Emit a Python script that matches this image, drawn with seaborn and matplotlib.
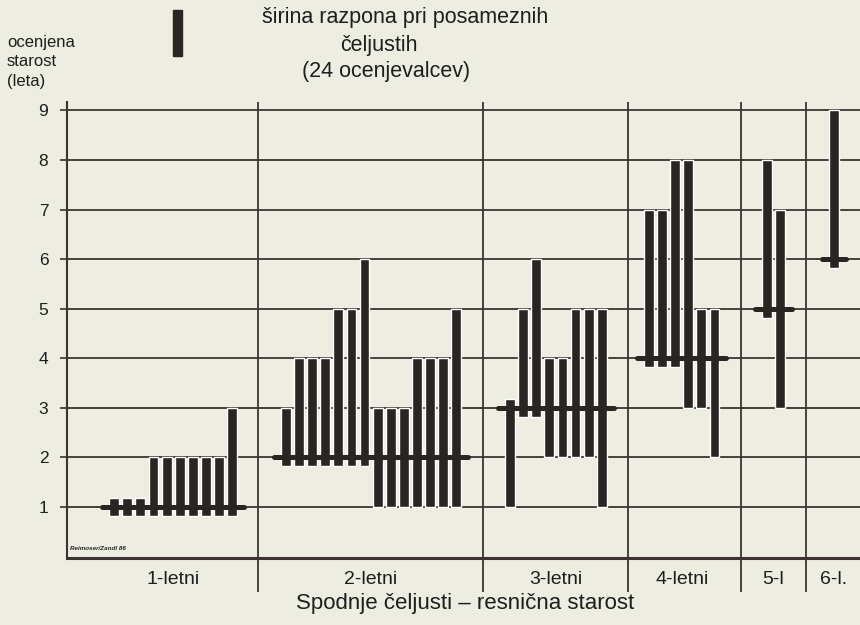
import numpy as np
import pandas as pd
import seaborn as sns
import matplotlib.pyplot as plt
from matplotlib.patches import Rectangle

# real age of the jaws (groups) and the range of estimates per jaw (24 estimators)
groups = ["1-letni", "2-letni", "3-letni", "4-letni", "5-l", "6-l."]
true_age = [1, 2, 3, 4, 5, 6]
est_min = [
    [1, 1, 1, 1, 1, 1, 1, 1, 1, 1],
    [2, 2, 2, 2, 2, 2, 2, 1, 1, 1, 1, 1, 1, 1],
    [1, 3, 3, 2, 2, 2, 2, 1],
    [4, 4, 4, 3, 3, 2],
    [5, 3],
    [6],
]
est_max = [
    [1, 1, 1, 2, 2, 2, 2, 2, 2, 3],
    [3, 4, 4, 4, 5, 5, 6, 3, 3, 3, 4, 4, 4, 5],
    [3, 5, 6, 4, 4, 5, 5, 5],
    [7, 7, 8, 8, 5, 5],
    [8, 7],
    [9],
]

paper = "#eeede1"
ink = "#2a2422"
grid_c = "#3b3330"

sns.set_theme(style="white")
plt.rcParams["font.family"] = ["Liberation Sans", "DejaVu Sans"]

# layout: each group cell is n bars wide plus some padding
pad = [4.6, 3.1, 3.1, 2.6, 3.0, 3.1]
widths = [len(m) + p for m, p in zip(est_min, pad)]
edges = np.concatenate([[0], np.cumsum(widths)])

rows = []
for g, name in enumerate(groups):
    n = len(est_min[g])
    for j in range(n):
        x = edges[g + 1] - 2 - (n - 1) + j
        rows.append(dict(group=name, x=x, lo=est_min[g][j], hi=est_max[g][j], t=true_age[g]))
bars = pd.DataFrame(rows)

fig = plt.figure(figsize=(8.6, 6.25), dpi=100, facecolor=paper)
ax = fig.add_axes([67 / 860, 67 / 625, 793 / 860, 456 / 625], facecolor=paper)

ax.hlines(range(1, 10), 0, edges[-1], color=grid_c, lw=1.3, zorder=1)
ax.vlines(edges[1:-1], -0.72, 9.17, color=grid_c, lw=1.3, zorder=1, clip_on=False)

# bars (small bead at the true-age line)
lo = np.minimum(bars["lo"], bars["t"] - 0.18)
hi = np.maximum(bars["hi"], bars["t"] + 0.18)
ax.bar(bars["x"], hi - lo, bottom=lo, width=0.75, color=ink, zorder=3)

# true-age lines
ends = bars.groupby("group", sort=False).agg(x0=("x", "min"), x1=("x", "max"), t=("t", "first")).reset_index()
line_df = pd.concat([
    ends.assign(x=ends["x0"] - 0.9)[["group", "x", "t"]],
    ends.assign(x=ends["x1"] + 0.9)[["group", "x", "t"]],
])
sns.lineplot(data=line_df, x="x", y="t", units="group", estimator=None, color=ink,
             lw=3.6, solid_capstyle="round", ax=ax, zorder=4)

ax.set_xlim(0, edges[-1])
ax.set_ylim(-0.03, 9.17)
ax.set_yticks(range(1, 10))
ax.set_yticklabels([str(v) for v in range(1, 10)], fontsize=12.5, color="#1e1e1e")
ax.tick_params(axis="y", length=5, width=1.2, color=grid_c, pad=8.5, left=True)
centers = ends[["x0", "x1"]].mean(axis=1)
ax.set_xticks(centers)
ax.set_xticklabels(groups, fontsize=14, color="#1e1e1e")
ax.tick_params(axis="x", length=0, pad=9)
ax.set_xlabel("")
ax.set_ylabel("")
for s in ["top", "right"]:
    ax.spines[s].set_visible(False)
ax.spines["left"].set_color(grid_c)
ax.spines["left"].set_linewidth(1.5)
ax.spines["bottom"].set_color(grid_c)
ax.spines["bottom"].set_linewidth(2.2)

ax.text(0.25, 0.12, "Reimoser/Zandl 86", fontsize=4.5, style="italic", weight="bold",
        color="#222", ha="left", va="bottom")

# texts around the chart
fig.text(7 / 860, 1 - 62 / 625, "ocenjena\nstarost\n(leta)", fontsize=12, color="#1e1e1e",
         ha="left", va="center", linespacing=1.35)
fig.patches.append(Rectangle((173 / 860, 1 - 56 / 625), 9 / 860, 46 / 625,
                             transform=fig.transFigure, color=ink))
fig.text(405 / 860, 1 - 18 / 625, "širina razpona pri posameznih", fontsize=15.5,
         color="#1e1e1e", ha="center", va="center")
fig.text(379 / 860, 1 - 45 / 625, "čeljustih", fontsize=15.5, color="#1e1e1e",
         ha="center", va="center")
fig.text(386 / 860, 1 - 72 / 625, "(24 ocenjevalcev)", fontsize=15.5, color="#1e1e1e",
         ha="center", va="center")
fig.text(465 / 860, 1 - 604 / 625, "Spodnje čeljusti – resnična starost", fontsize=16,
         color="#1e1e1e", ha="center", va="center")

fig.savefig("out.png", dpi=100, facecolor=paper)
